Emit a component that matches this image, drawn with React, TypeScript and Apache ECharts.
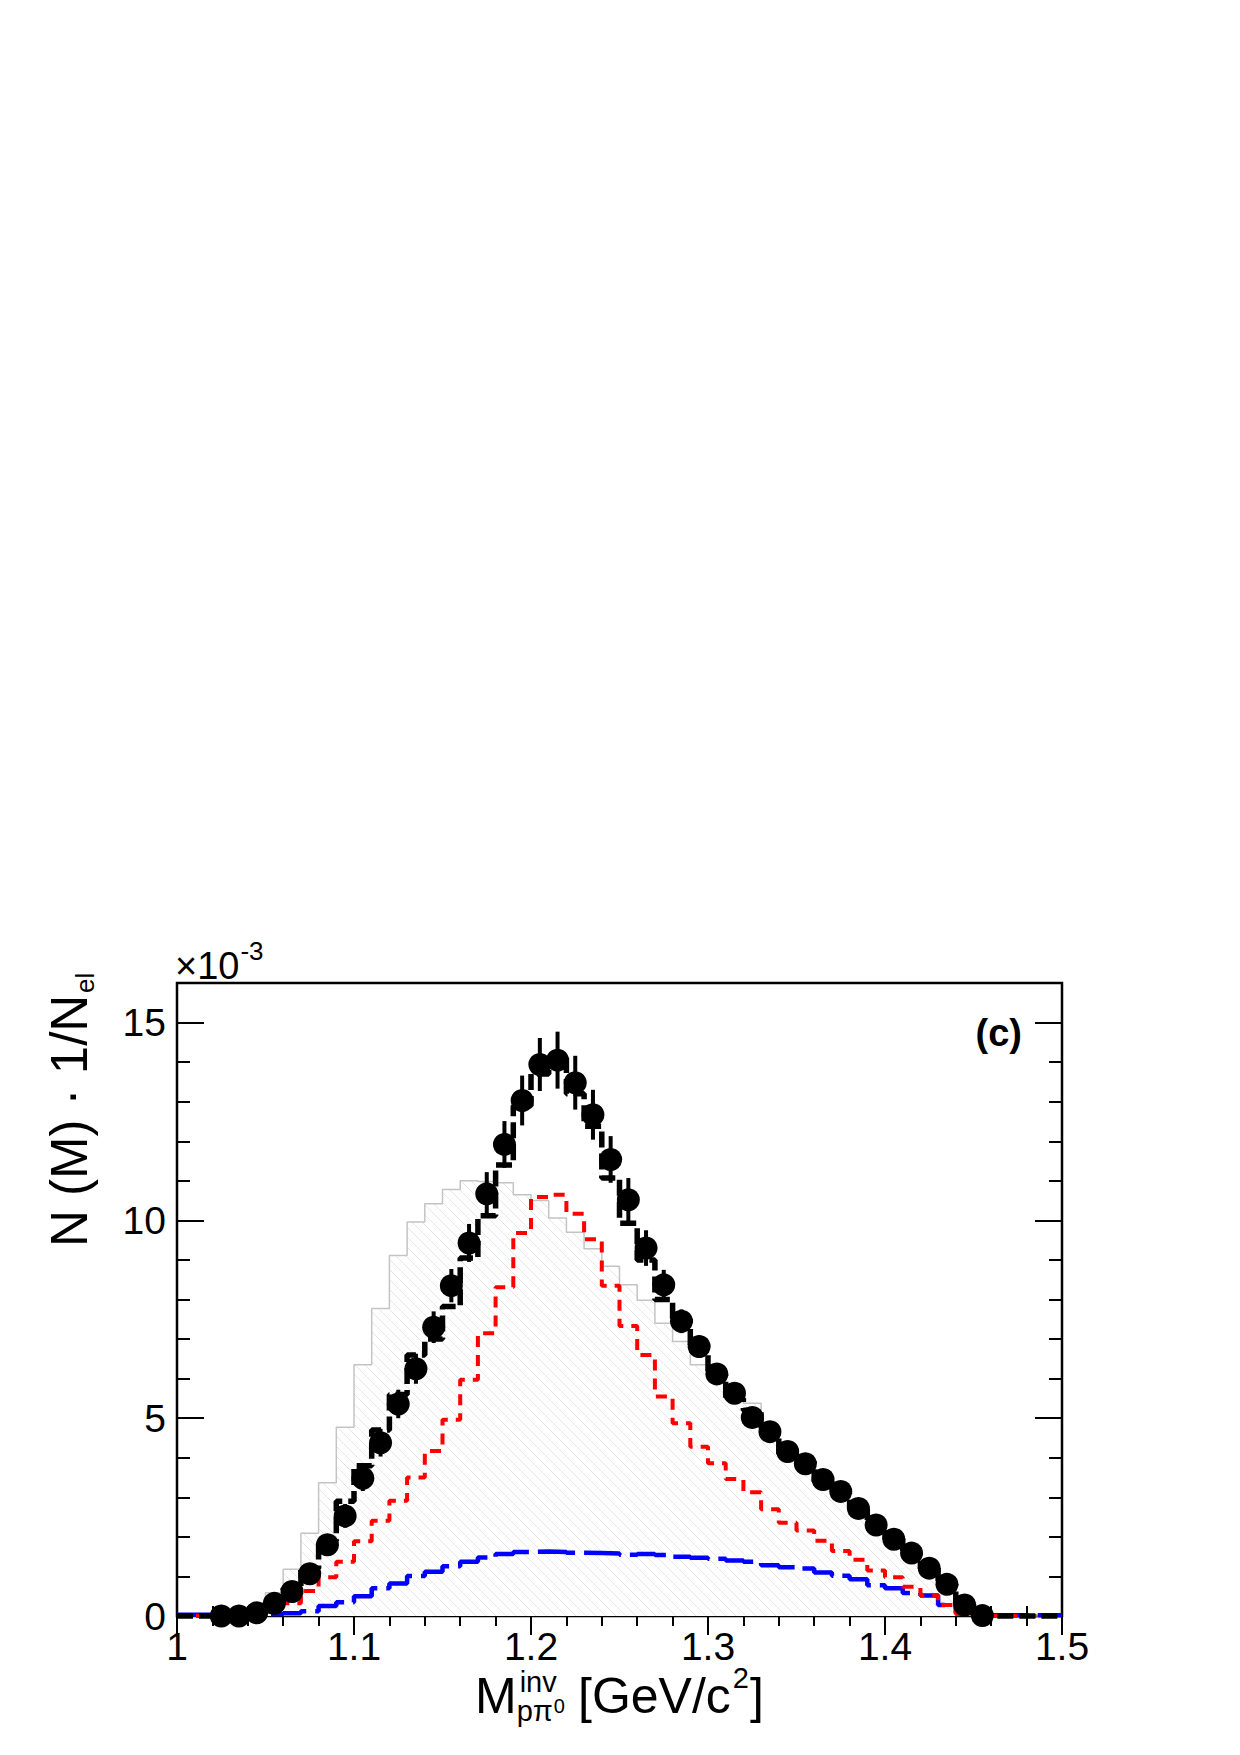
import React, { useEffect, useRef } from "react";
import * as echarts from "echarts";

// ---------- data (values in units of 1e-3) ----------
const M_MIN = 1.0;
const BIN_WIDTH = 0.01;

// grey (hatched) model histogram, 50 bins from 1.00 to 1.50
const greyHist = [0, 0, 0, 0.03, 0.15, 0.59, 1.18, 2.09, 3.37, 4.77, 6.35, 7.77, 9.11, 9.96, 10.42, 10.78, 11.0, 10.98, 10.95, 10.65, 10.5, 10.06, 9.7, 9.28, 8.84, 8.37, 7.98, 7.4, 6.94, 6.35, 6.1, 5.6, 5.38, 4.7, 4.2, 3.9, 3.5, 3.15, 2.75, 2.32, 1.95, 1.6, 1.22, 0.82, 0.3, 0, 0, 0, 0, 0];

// red short-dashed histogram
const redHist = [0, 0, 0, 0, 0, 0.1, 0.32, 0.63, 0.98, 1.37, 1.89, 2.41, 2.91, 3.5, 4.17, 4.96, 5.97, 7.15, 8.31, 9.68, 10.59, 10.65, 10.17, 9.52, 8.35, 7.33, 6.6, 5.55, 4.87, 4.28, 3.86, 3.46, 3.13, 2.7, 2.36, 2.16, 1.9, 1.64, 1.42, 1.15, 0.98, 0.74, 0.53, 0.28, 0.05, 0, 0, 0, 0, 0];

// blue long-dashed histogram
const blueHist = [0.03, 0.03, 0.03, 0.03, 0.04, 0.05, 0.07, 0.12, 0.25, 0.35, 0.5, 0.7, 0.82, 1.01, 1.12, 1.26, 1.37, 1.48, 1.57, 1.62, 1.63, 1.62, 1.6, 1.59, 1.58, 1.55, 1.57, 1.54, 1.5, 1.47, 1.45, 1.4, 1.37, 1.28, 1.23, 1.2, 1.1, 1.02, 0.93, 0.78, 0.7, 0.58, 0.52, 0.28, 0.08, 0.02, 0.02, 0.02, 0.02, 0.02];

// black thick dashed histogram
const blackHist = [0, 0, 0.02, 0.05, 0.15, 0.35, 0.7, 1.2, 1.9, 2.9, 3.8, 4.7, 5.6, 6.6, 7.0, 7.82, 9.05, 10.12, 11.4, 12.9, 13.7, 14.1, 13.2, 12.38, 11.07, 9.93, 9.0, 8.0, 7.5, 6.7, 6.1, 5.5, 5.2, 4.6, 4.1, 3.9, 3.4, 3.1, 2.7, 2.3, 1.95, 1.55, 1.2, 0.8, 0.3, 0, 0, 0, 0, 0];

// data points
const dataM = [1.025, 1.035, 1.045, 1.055, 1.065, 1.075, 1.085, 1.095, 1.105, 1.115, 1.125, 1.135, 1.145, 1.155, 1.165, 1.175, 1.185, 1.195, 1.205, 1.215, 1.225, 1.235, 1.245, 1.255, 1.265, 1.275, 1.285, 1.295, 1.305, 1.315, 1.325, 1.335, 1.345, 1.355, 1.365, 1.375, 1.385, 1.395, 1.405, 1.415, 1.425, 1.435, 1.445, 1.455];
const dataN = [0.0, 0.0, 0.08, 0.32, 0.62, 1.07, 1.8, 2.53, 3.48, 4.38, 5.36, 6.25, 7.3, 8.35, 9.43, 10.67, 11.92, 13.03, 13.94, 14.05, 13.48, 12.67, 11.54, 10.52, 9.3, 8.37, 7.45, 6.81, 6.12, 5.63, 5.02, 4.66, 4.16, 3.85, 3.45, 3.15, 2.72, 2.3, 1.94, 1.59, 1.21, 0.8, 0.28, 0.01];
const dataErr = [0.02, 0.03, 0.05, 0.1, 0.15, 0.2, 0.25, 0.3, 0.32, 0.35, 0.36, 0.38, 0.4, 0.42, 0.48, 0.55, 0.59, 0.63, 0.67, 0.72, 0.68, 0.63, 0.59, 0.55, 0.45, 0.38, 0.3, 0.28, 0.25, 0.22, 0.2, 0.18, 0.17, 0.16, 0.15, 0.14, 0.13, 0.12, 0.11, 0.1, 0.09, 0.08, 0.05, 0.02];

const xTicks = { min: 1, max: 1.5, interval: 0.1 };
const yTicks = { min: 0, max: 16, major: 5, minor: 1 };

const FONT = '"Liberation Sans", Arial, Helvetica, sans-serif';

function histSteps(vals: number[]) {
  const pts: number[][] = vals.map((v, i) => [M_MIN + i * BIN_WIDTH, v]);
  pts.push([M_MIN + vals.length * BIN_WIDTH, vals[vals.length - 1]]);
  return pts;
}

function measure(text: string, size: number, weight = "normal") {
  const c = document.createElement("canvas");
  const g = c.getContext("2d")!;
  g.font = `${weight} ${size}px ${FONT}`;
  return g.measureText(text).width;
}

function makeHatch() {
  const s = 10;
  const c = document.createElement("canvas");
  c.width = s;
  c.height = s;
  const g = c.getContext("2d")!;
  g.fillStyle = "#ffffff";
  g.fillRect(0, 0, s, s);
  g.strokeStyle = "#e6e6e6";
  g.lineWidth = 1;
  g.beginPath();
  g.moveTo(-1, -1);
  g.lineTo(s + 1, s + 1);
  g.moveTo(-1, s - 1);
  g.lineTo(1, s + 1);
  g.moveTo(s - 1, -1);
  g.lineTo(s + 1, 1);
  g.stroke();
  return c;
}

// text with baseline at y (textVerticalAlign middle shifted)
function txt(text: string, x: number, baseline: number, size: number, opts: any = {}) {
  const weight = opts.weight || "normal";
  return {
    type: "text",
    x: 0,
    y: 0,
    style: {
      text,
      x,
      y: baseline - 0.3465 * size,
      font: `${weight} ${size}px ${FONT}`,
      fill: "#000",
      textAlign: opts.align || "left",
      textVerticalAlign: "middle",
    },
    z: 100,
  };
}

export default function App() {
  const ref = useRef<HTMLDivElement>(null);

  useEffect(() => {
    if (!ref.current) return;
    const chart = echarts.init(ref.current, undefined, { renderer: "svg" });

    const hatch = makeHatch();

    const tickStyle = { color: "#000", width: 2 };

    // x title pieces
    const xBase = 1713;
    const mX = 475;
    const wM = measure("M", 50);
    const supX = mX + wM + 3;
    const wP = measure("p\u03c0", 29);
    const bracketX = 578;
    const wG = measure("[GeV/c", 50);
    const w2 = measure("2", 29);

    // y title
    const yMain = "N (M) \u00b7 1/N";
    const wYMain = measure(yMain, 51);

    // x10^-3
    const wX10 = measure("\u00d710", 38);

    const graphic: any[] = [
      txt("M", mX, xBase, 50),
      txt("inv", supX, 1692, 29),
      txt("p\u03c0", supX - 3, 1721, 29),
      txt("0", supX - 3 + wP + 1, 1713, 20),
      txt("[GeV/c", bracketX, xBase, 50),
      txt("2", bracketX + wG + 2, 1688, 29),
      txt("]", bracketX + wG + 2 + w2 + 1, xBase, 50),
      txt("\u00d710", 175, 979, 38),
      txt("-3", 175 + wX10 + 1, 960, 26),
      txt("(c)", 1022, 1046, 38, { weight: "bold", align: "right" }),
      {
        type: "group",
        x: 87,
        y: 1247,
        rotation: Math.PI / 2,
        z: 100,
        children: [
          {
            type: "text",
            style: {
              text: yMain,
              x: 0,
              y: -0.3465 * 51,
              font: `normal 51px ${FONT}`,
              fill: "#000",
              textAlign: "left",
              textVerticalAlign: "middle",
            },
          },
          {
            type: "text",
            style: {
              text: "el",
              x: wYMain + 2,
              y: 7 - 0.3465 * 26,
              font: `normal 26px ${FONT}`,
              fill: "#000",
              textAlign: "left",
              textVerticalAlign: "middle",
            },
          },
        ],
      },
    ];

    const labelFmtX = (v: number) => String(parseFloat(v.toFixed(2)));
    const labelFmtY = (v: number) => (Math.abs(v % yTicks.major) < 1e-9 ? String(v) : "");

    const option: any = {
      animation: false,
      backgroundColor: "#ffffff",
      grid: {
        left: 177,
        top: 983,
        width: 885,
        height: 633,
        show: true,
        borderColor: "#000",
        borderWidth: 2.5,
        backgroundColor: "#ffffff",
        z: 0,
      },
      xAxis: [
        {
          type: "value",
          position: "bottom",
          min: xTicks.min,
          max: xTicks.max,
          interval: xTicks.interval,
          axisLine: { show: false },
          splitLine: { show: false },
          axisTick: { show: true, inside: true, length: 19, lineStyle: tickStyle },
          minorTick: { show: true, splitNumber: 5, length: 10, lineStyle: tickStyle },
          axisLabel: {
            show: true,
            margin: 11,
            color: "#000",
            fontSize: 39,
            fontFamily: FONT,
            formatter: labelFmtX,
            showMinLabel: true,
            showMaxLabel: true,
          },
        },
        {
          type: "value",
          position: "top",
          min: xTicks.min,
          max: xTicks.max,
          interval: xTicks.interval,
          axisLine: { show: false },
          splitLine: { show: false },
          axisTick: { show: true, inside: true, length: 19, lineStyle: tickStyle },
          minorTick: { show: true, splitNumber: 5, length: 10, lineStyle: tickStyle },
          axisLabel: { show: false },
        },
      ],
      yAxis: [
        {
          type: "value",
          position: "left",
          min: yTicks.min,
          max: yTicks.max,
          interval: yTicks.major,
          axisLine: { show: false },
          splitLine: { show: false },
          axisTick: { show: true, inside: true, length: 27, lineStyle: tickStyle },
          axisLabel: {
            show: true,
            margin: 11,
            color: "#000",
            fontSize: 39,
            fontFamily: FONT,
            formatter: labelFmtY,
          },
        },
        {
          type: "value",
          position: "left",
          min: yTicks.min,
          max: yTicks.max,
          interval: yTicks.minor,
          axisLine: { show: false },
          splitLine: { show: false },
          axisTick: { show: true, inside: true, length: 13, lineStyle: tickStyle },
          axisLabel: { show: false },
        },
        {
          type: "value",
          position: "right",
          min: yTicks.min,
          max: yTicks.max,
          interval: yTicks.major,
          axisLine: { show: false },
          splitLine: { show: false },
          axisTick: { show: true, inside: true, length: 27, lineStyle: tickStyle },
          axisLabel: { show: false },
        },
        {
          type: "value",
          position: "right",
          min: yTicks.min,
          max: yTicks.max,
          interval: yTicks.minor,
          axisLine: { show: false },
          splitLine: { show: false },
          axisTick: { show: true, inside: true, length: 13, lineStyle: tickStyle },
          axisLabel: { show: false },
        },
      ],
      series: [
        {
          name: "grey",
          type: "line",
          step: "end",
          symbol: "none",
          showSymbol: false,
          data: histSteps(greyHist),
          lineStyle: { color: "#c4c4c4", width: 1.5 },
          areaStyle: { color: { image: hatch, repeat: "repeat" }, opacity: 1 },
          z: 1,
          silent: true,
        },
        {
          name: "blue",
          type: "line",
          step: "end",
          symbol: "none",
          showSymbol: false,
          clip: false,
          data: histSteps(blueHist),
          lineStyle: { color: "#0000ff", width: 4.5, type: [38, 9] },
          z: 2,
          silent: true,
        },
        {
          name: "red",
          type: "line",
          step: "end",
          symbol: "none",
          showSymbol: false,
          clip: false,
          data: histSteps(redHist),
          lineStyle: { color: "#ff0000", width: 4, type: [11, 8] },
          z: 3,
          silent: true,
        },
        {
          name: "black",
          type: "line",
          step: "end",
          symbol: "none",
          showSymbol: false,
          clip: false,
          data: histSteps(blackHist),
          lineStyle: { color: "#000000", width: 5.5, type: [16, 6] },
          z: 4,
          silent: true,
        },
        {
          name: "errors",
          type: "custom",
          data: dataM.map((m, i) => [m, dataN[i], dataErr[i]]),
          renderItem: (params: any, api: any) => {
            const x = api.value(0);
            const y = api.value(1);
            const e = api.value(2);
            const p1 = api.coord([x, y - e]);
            const p2 = api.coord([x, y + e]);
            return {
              type: "line",
              shape: { x1: p1[0], y1: p1[1], x2: p2[0], y2: p2[1] },
              style: { stroke: "#000", lineWidth: 4 },
            };
          },
          z: 5,
          silent: true,
        },
        {
          name: "data",
          type: "scatter",
          symbol: "circle",
          symbolSize: 23,
          data: dataM.map((m, i) => [m, dataN[i]]),
          itemStyle: { color: "#000", opacity: 1 },
          z: 6,
          silent: true,
        },
      ],
      graphic,
    };

    chart.setOption(option);
    return () => chart.dispose();
  }, []);

  return (
    <div
      ref={ref}
      style={{ position: "absolute", left: 0, top: 0, width: 1240, height: 1755, background: "#fff" }}
    />
  );
}
